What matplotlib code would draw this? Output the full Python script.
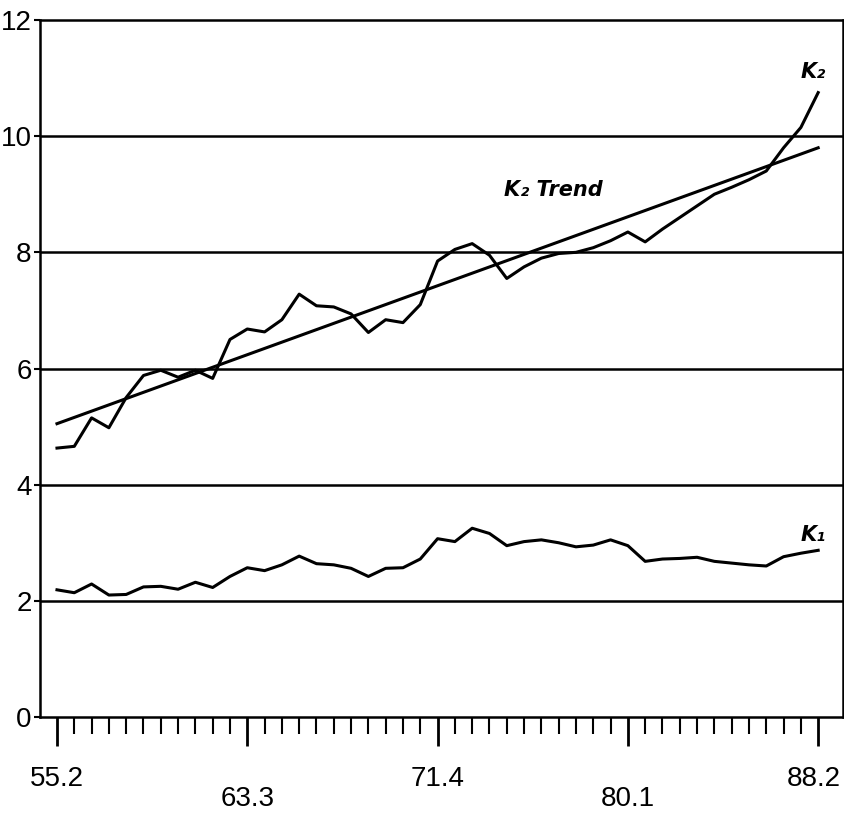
import matplotlib
matplotlib.use('Agg')
import matplotlib.pyplot as plt
from matplotlib.transforms import ScaledTranslation

# time axis in quarters since 1955 Q2, one point every 3 quarters
quarters = list(range(0, 133, 3))

k2 = [4.63, 4.66, 5.15, 4.98, 5.50, 5.88, 5.97, 5.85, 5.97, 5.83,
      6.50, 6.68, 6.63, 6.84, 7.28, 7.08, 7.06, 6.94, 6.62, 6.84,
      6.79, 7.10, 7.85, 8.05, 8.15, 7.95, 7.55, 7.75, 7.90, 7.98,
      8.00, 8.08, 8.20, 8.35, 8.18, 8.40, 8.60, 8.80, 9.00, 9.12,
      9.25, 9.40, 9.80, 10.15, 10.75]

k1 = [2.19, 2.14, 2.29, 2.10, 2.11, 2.24, 2.25, 2.20, 2.32, 2.23,
      2.42, 2.57, 2.52, 2.62, 2.77, 2.64, 2.62, 2.56, 2.42, 2.56,
      2.57, 2.72, 3.07, 3.02, 3.25, 3.16, 2.95, 3.02, 3.05, 3.00,
      2.93, 2.96, 3.05, 2.95, 2.68, 2.72, 2.73, 2.75, 2.68, 2.65,
      2.62, 2.60, 2.76, 2.82, 2.87]

trend_x = [0, 132]
trend_y = [5.05, 9.80]

tick_pos = [0, 33, 66, 99, 132]
tick_labels = ['55.2', '63.3', '71.4', '80.1', '88.2']
y_ticks = [0, 2, 4, 6, 8, 10, 12]

plt.rcParams['font.family'] = ['Liberation Sans', 'DejaVu Sans']

fig = plt.figure(figsize=(8.45, 8.16), dpi=100)
ax = fig.add_axes([0.0473, 0.1213, 0.9503, 0.8542])

for y in y_ticks[1:-1]:
    ax.axhline(y, color='black', linewidth=1.8)

ax.plot(trend_x, trend_y, color='black', linewidth=2.2)
ax.plot(quarters, k2, color='black', linewidth=2.2)
ax.plot(quarters, k1, color='black', linewidth=2.2)

hand = dict(family=['DejaVu Sans'], style='italic', weight='bold',
            fontsize=15, va='center')
ax.text(77.6, 9.08, 'K₂ Trend', **hand)
ax.text(129.0, 11.1, 'K₂', **hand)
ax.text(129.0, 3.13, 'K₁', **hand)

ax.set_xlim(-2.95, 136.3)
ax.set_ylim(0, 12)

ax.set_xticks(tick_pos, tick_labels, fontsize=20)
ax.set_xticks(quarters, minor=True)
ax.tick_params(axis='x', which='major', length=21, width=2, pad=14)
ax.tick_params(axis='x', which='minor', length=12, width=1.5)
for tick in ax.xaxis.get_major_ticks()[1::2]:
    tick.set_pad(29)

# last label sits right at the figure edge, nudge it in a little
last = ax.get_xticklabels()[-1]
last.set_transform(last.get_transform() + ScaledTranslation(-4 / 100, 0, fig.dpi_scale_trans))

ax.set_yticks(y_ticks)
ax.tick_params(axis='y', length=4, width=1.5, labelsize=20, pad=2)

for side in ax.spines.values():
    side.set_linewidth(1.8)

fig.savefig('out.png', dpi=100)
